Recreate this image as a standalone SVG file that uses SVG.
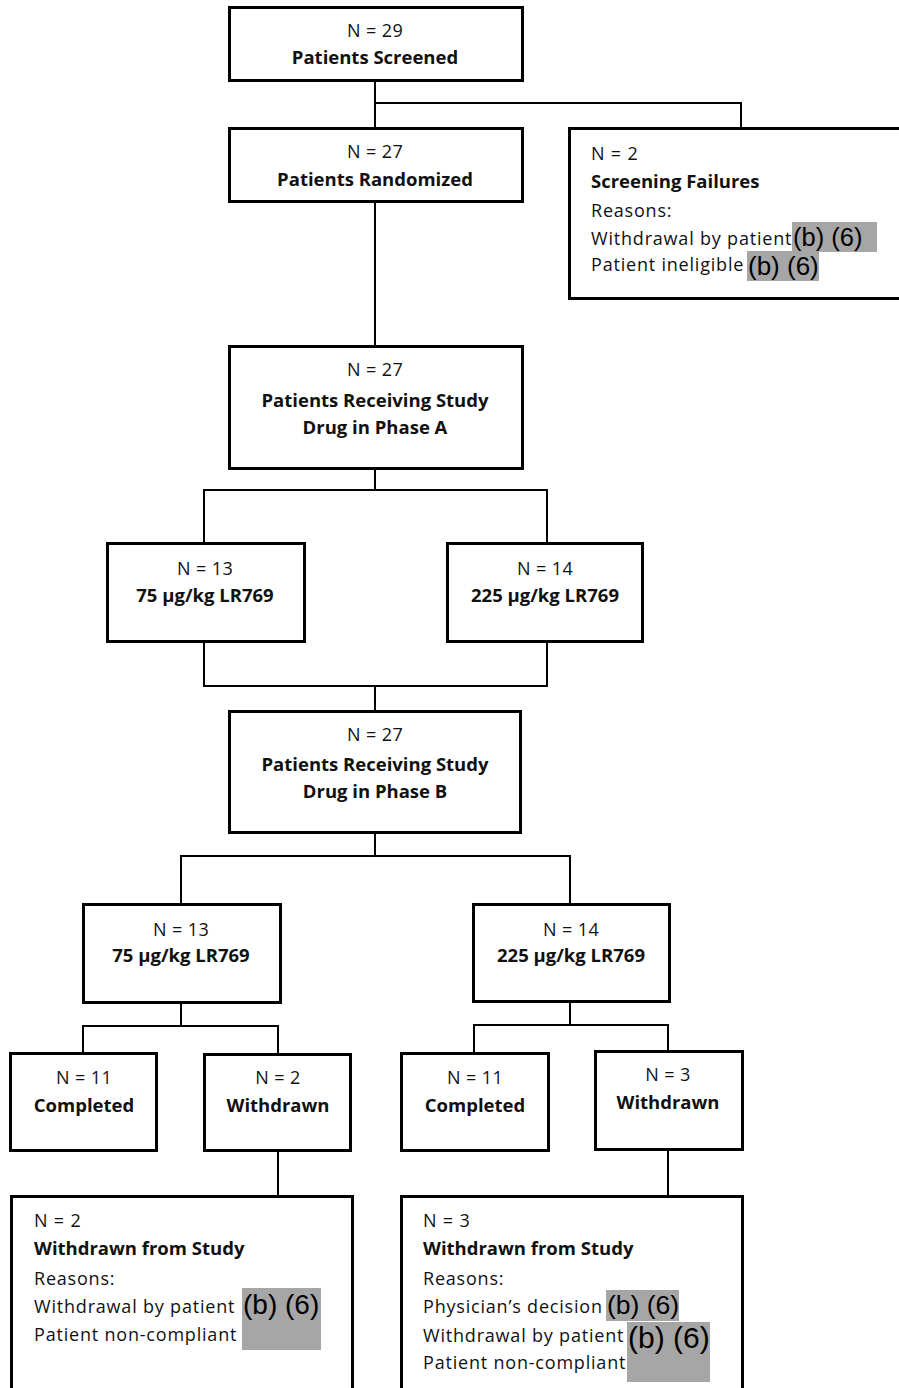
<svg xmlns="http://www.w3.org/2000/svg" width="899" height="1388" viewBox="0 0 899 1388">
<style>
.box{fill:#fff;stroke:#000;stroke-width:3}
.ln{fill:none;stroke:#000;stroke-width:2}
text{font-family:"Open Sans","Liberation Sans",sans-serif;font-size:18px;fill:#111;letter-spacing:0.4px}
.c{text-anchor:middle}
.b{font-weight:bold;font-size:18.5px;letter-spacing:0}
.l{letter-spacing:0.8px}
.red{fill:#a6a6a6}
.rt{font-family:"Liberation Sans",Arial,sans-serif;fill:#000;letter-spacing:0}
</style>
<g id="connectors">
<path class="ln" d="M375 80V128M375 103H741V128"/>
<path class="ln" d="M375 201V346"/>
<path class="ln" d="M375 468V490M204 543V490H547V543"/>
<path class="ln" d="M204 641V686H547V641M375 686V711"/>
<path class="ln" d="M375 832V856M181 904V856H570V904"/>
<path class="ln" d="M181 1002V1026M83 1053V1026H278V1053"/>
<path class="ln" d="M278 1150V1196"/>
<path class="ln" d="M570 1001V1025M474 1053V1025H668V1051"/>
<path class="ln" d="M668 1149V1196"/>
</g>
<g id="screened">
<rect class="box" x="229.5" y="7.5" width="293" height="73"/>
<text class="c" x="375" y="37">N = 29</text>
<text class="c b" x="375" y="64">Patients Screened</text>
</g>
<g id="randomized">
<rect class="box" x="229.5" y="128.5" width="293" height="73"/>
<text class="c" x="375" y="158">N = 27</text>
<text class="c b" x="375" y="186">Patients Randomized</text>
</g>
<g id="screening-failures">
<rect class="box" x="569.5" y="128.5" width="335" height="170"/>
<text class="l" x="591" y="160">N = 2</text>
<text class="b" x="591" y="188">Screening Failures</text>
<text class="l" x="591" y="217">Reasons:</text>
<text class="l" x="591" y="245">Withdrawal by patient</text>
<text class="l" x="591" y="271">Patient ineligible</text>
<rect class="red" x="792" y="222" width="85" height="30"/>
<text class="rt" x="793" y="246" style="font-size:25.5px">(b) (6)</text>
<rect class="red" x="747" y="251" width="72" height="30"/>
<text class="rt" x="748" y="275" style="font-size:26px">(b) (6)</text>
</g>
<g id="phase-a">
<rect class="box" x="229.5" y="346.5" width="293" height="122"/>
<text class="c" x="375" y="376">N = 27</text>
<text class="c b" x="375" y="407">Patients Receiving Study</text>
<text class="c b" x="375" y="434">Drug in Phase A</text>
</g>
<g id="a-75">
<rect class="box" x="107.5" y="543.5" width="197" height="98"/>
<text class="c" x="205" y="575">N = 13</text>
<text class="c b" x="205" y="602">75 µg/kg LR769</text>
</g>
<g id="a-225">
<rect class="box" x="447.5" y="543.5" width="195" height="98"/>
<text class="c" x="545" y="575">N = 14</text>
<text class="c b" x="545" y="602">225 µg/kg LR769</text>
</g>
<g id="phase-b">
<rect class="box" x="229.5" y="711.5" width="291" height="121"/>
<text class="c" x="375" y="741">N = 27</text>
<text class="c b" x="375" y="771">Patients Receiving Study</text>
<text class="c b" x="375" y="798">Drug in Phase B</text>
</g>
<g id="b-75">
<rect class="box" x="83.5" y="904.5" width="197" height="98"/>
<text class="c" x="181" y="936">N = 13</text>
<text class="c b" x="181" y="962">75 µg/kg LR769</text>
</g>
<g id="b-225">
<rect class="box" x="473.5" y="904.5" width="196" height="97"/>
<text class="c" x="571" y="936">N = 14</text>
<text class="c b" x="571" y="962">225 µg/kg LR769</text>
</g>
<g id="completed-75">
<rect class="box" x="10.5" y="1053.5" width="146" height="97"/>
<text class="c" x="84" y="1084">N = 11</text>
<text class="c b" x="84" y="1112">Completed</text>
</g>
<g id="withdrawn-75">
<rect class="box" x="204.5" y="1054.5" width="146" height="96"/>
<text class="c" x="278" y="1084">N = 2</text>
<text class="c b" x="278" y="1112">Withdrawn</text>
</g>
<g id="completed-225">
<rect class="box" x="401.5" y="1053.5" width="147" height="97"/>
<text class="c" x="475" y="1084">N = 11</text>
<text class="c b" x="475" y="1112">Completed</text>
</g>
<g id="withdrawn-225">
<rect class="box" x="595.5" y="1051.5" width="147" height="98"/>
<text class="c" x="668" y="1081">N = 3</text>
<text class="c b" x="668" y="1109">Withdrawn</text>
</g>
<g id="study-withdrawn-75">
<rect class="box" x="11.5" y="1196.5" width="341" height="200"/>
<text class="l" x="34" y="1227">N = 2</text>
<text class="b" x="34" y="1255">Withdrawn from Study</text>
<text class="l" x="34" y="1285">Reasons:</text>
<text class="l" x="34" y="1313">Withdrawal by patient</text>
<text class="l" x="34" y="1341">Patient non-compliant</text>
<rect class="red" x="242" y="1288" width="79" height="62"/>
<text class="rt" x="243" y="1314" style="font-size:28px">(b) (6)</text>
</g>
<g id="study-withdrawn-225">
<rect class="box" x="401.5" y="1196.5" width="341" height="200"/>
<text class="l" x="423" y="1227">N = 3</text>
<text class="b" x="423" y="1255">Withdrawn from Study</text>
<text class="l" x="423" y="1285">Reasons:</text>
<text class="l" x="423" y="1313">Physician’s decision</text>
<text class="l" x="423" y="1342">Withdrawal by patient</text>
<text class="l" x="423" y="1369">Patient non-compliant</text>
<rect class="red" x="606" y="1290" width="73" height="31"/>
<text class="rt" x="607" y="1314" style="font-size:26.5px">(b) (6)</text>
<rect class="red" x="627" y="1322" width="83" height="60"/>
<text class="rt" x="628" y="1348" style="font-size:30px">(b) (6)</text>
</g>
</svg>
